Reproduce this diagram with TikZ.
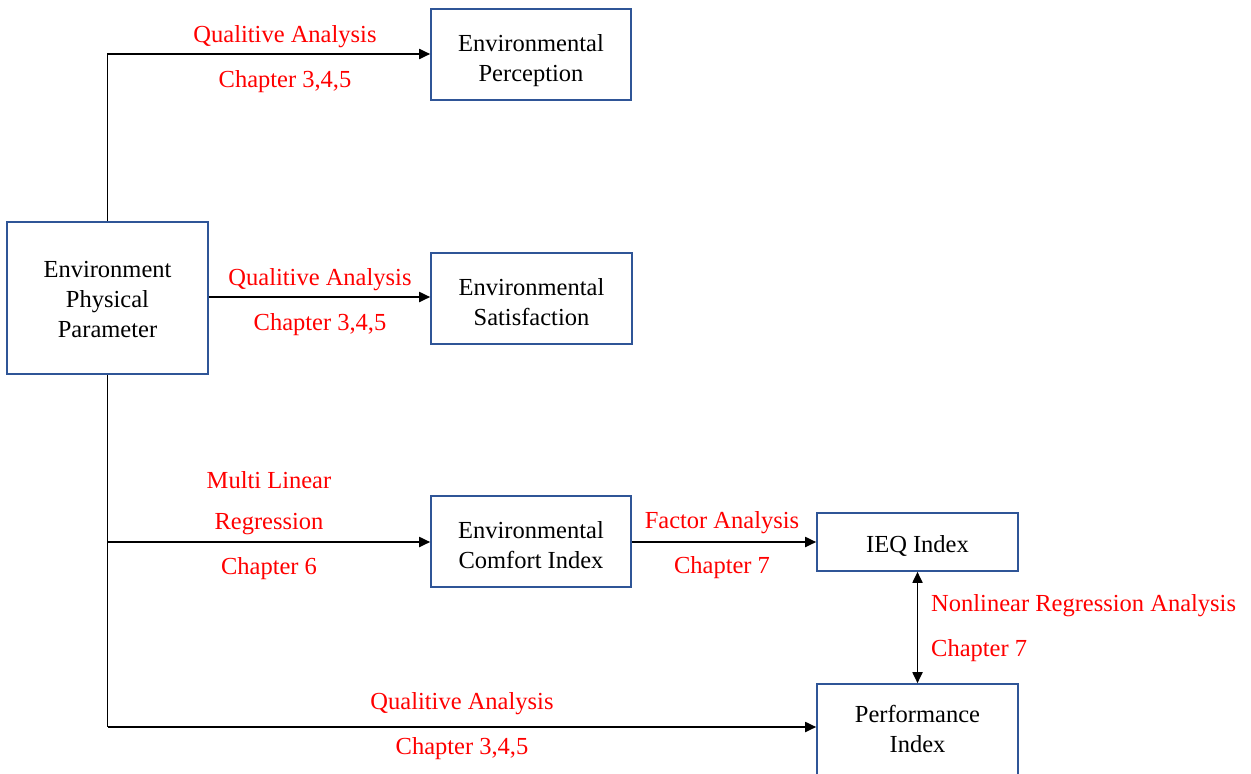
\documentclass[tikz,border=0pt]{standalone}
\usepackage{fontspec}
\setmainfont{Liberation Serif}
\usetikzlibrary{arrows.meta}
\definecolor{boxblue}{RGB}{47,85,151}
\tikzset{
  box/.style={draw=boxblue, line width=1.6pt, inner sep=0pt},
  boxtext/.style={align=center, inner sep=0pt, yshift=-4pt,
    font=\fontsize{24.5}{30}\selectfont},
  lbl/.style={text=red, font=\fontsize{24.5}{30}\selectfont, inner sep=0pt, yshift=-3pt},
  conn/.style={line width=1.8pt, -{Triangle[length=11pt,width=10pt]}},
  both/.style={line width=1.8pt, {Triangle[length=11pt,width=10pt]}-{Triangle[length=11pt,width=10pt]}},
}
\begin{document}
\begin{tikzpicture}[x=1pt,y=-1pt]
\useasboundingbox (0,0) rectangle (1251,774);
\node[box, minimum width=201, minimum height=152,
  label={[boxtext, yshift=2pt]center:Environment\\Physical\\Parameter}] (epp) at (107.5,298) {};
\node[box, minimum width=200, minimum height=91,
  label={[boxtext, yshift=-2pt]center:Environmental\\Perception}] (perc) at (531,54.5) {};
\node[box, minimum width=201, minimum height=91,
  label={[boxtext]center:Environmental\\Satisfaction}] (sat) at (531.5,298.5) {};
\node[box, minimum width=200, minimum height=91,
  label={[boxtext]center:Environmental\\Comfort Index}] (eci) at (531,541.5) {};
\node[box, minimum width=201, minimum height=58,
  label={[boxtext]center:IEQ Index}] (ieq) at (917.5,542) {};
\node[box, minimum width=201, minimum height=91,
  label={[boxtext, yshift=5pt]center:Performance\\Index}] (perf) at (917.5,729.5) {};

\coordinate (br) at (107.5,542);
\coordinate (bot) at (107.5,727);

\draw[conn] (epp.north) |- (perc.west |- 0,54);
\draw[conn] (epp.east |- 0,297) -- (sat.west |- 0,297);
\draw[line width=1.8pt] (epp.south) -- (bot);
\draw[conn] (bot) -- (perf.west |- bot);
\draw[conn] (br) -- (eci.west |- br);
\draw[conn] (eci.east |- 0,542) -- (ieq.west |- 0,542);
\draw[both] (ieq.south) -- (perf.north);

\node[lbl] (l1a) at (285,34) {Qualitive Analysis};
\node[lbl] (l1b) at (285,79) {Chapter 3,4,5};
\node[lbl] (l2a) at (320,277) {Qualitive Analysis};
\node[lbl] (l2b) at (320,322) {Chapter 3,4,5};
\node[lbl] (l3a) at (269,477) {Multi Linear};
\node[lbl] (l3b) at (269,521) {Regression};
\node[lbl] (l3c) at (269,566) {Chapter 6};
\node[lbl] (l4a) at (722,520) {Factor Analysis};
\node[lbl] (l4b) at (722,565) {Chapter 7};
\node[lbl, anchor=west] (l5a) at (931,603) {Nonlinear Regression Analysis};
\node[lbl, anchor=west] (l5b) at (931,648) {Chapter 7};
\node[lbl] (l6a) at (462,701) {Qualitive Analysis};
\node[lbl] (l6b) at (462,746) {Chapter 3,4,5};
\end{tikzpicture}
\end{document}
